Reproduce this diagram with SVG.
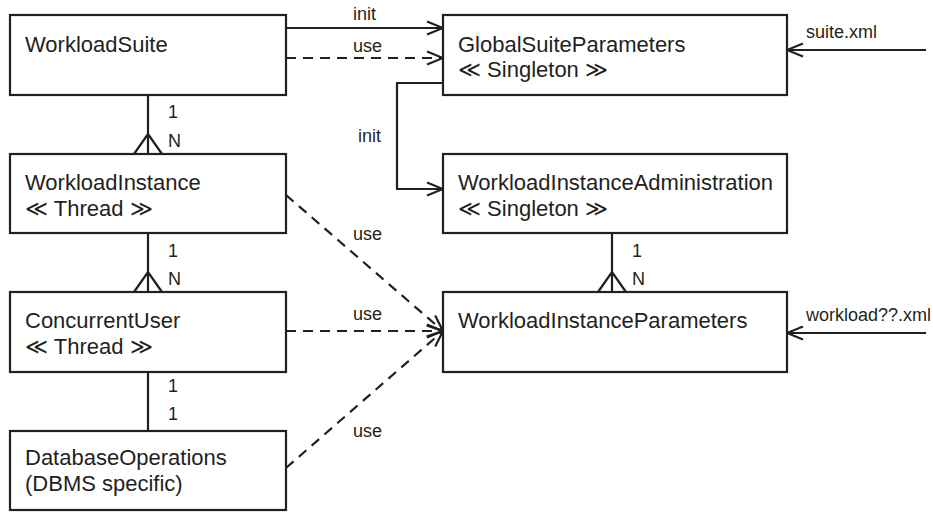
<svg xmlns="http://www.w3.org/2000/svg" width="933" height="512" viewBox="0 0 933 512">
<style>
.box{fill:#fff;stroke:#231f20;stroke-width:2.2}
.t{font-family:"Liberation Sans",Arial,sans-serif;font-size:22px;fill:#231f20}
.l{font-family:"Liberation Sans",Arial,sans-serif;font-size:18px;fill:#231f20}
.c{fill:none;stroke:#231f20;stroke-width:2.2}
.d{stroke-dasharray:10 7}
</style>
<defs>
<marker id="arr" viewBox="0 0 20 16" refX="18" refY="8" markerWidth="20" markerHeight="16" markerUnits="userSpaceOnUse" orient="auto">
<path d="M2,1.5 L18,8 L2,14.5" fill="none" stroke="#231f20" stroke-width="2.2" stroke-dasharray="none"/>
</marker>
</defs>
<rect width="933" height="512" fill="#fff"/>
<g id="connectors">
<path class="c" d="M286,28 H443" marker-end="url(#arr)"/>
<path class="c d" d="M286,58 H443" marker-end="url(#arr)"/>
<path class="c" d="M443,83 H397 V189 H443" marker-end="url(#arr)"/>
<path class="c" d="M926,50 H787" marker-end="url(#arr)"/>
<path class="c" d="M926,333 H787" marker-end="url(#arr)"/>
<path class="c d" d="M286,195 L443,331" marker-end="url(#arr)"/>
<path class="c d" d="M286,331 H443" marker-end="url(#arr)"/>
<path class="c d" d="M286,468 L443,331" marker-end="url(#arr)"/>
<path class="c" d="M148,95 V154 M134,154 L148,134 L162,154"/>
<path class="c" d="M148,233 V292 M134,292 L148,272 L162,292"/>
<path class="c" d="M148,372 V431"/>
<path class="c" d="M612,233 V292 M598,292 L612,272 L626,292"/>
<text class="l" x="353" y="20">init</text>
<text class="l" x="353" y="52">use</text>
<text class="l" x="358" y="142">init</text>
<text class="l" x="806" y="38">suite.xml</text>
<text class="l" x="806" y="321">workload??.xml</text>
<text class="l" x="353" y="240">use</text>
<text class="l" x="353" y="320">use</text>
<text class="l" x="353" y="437">use</text>
<text class="l" x="168" y="118">1</text>
<text class="l" x="168" y="147">N</text>
<text class="l" x="168" y="257">1</text>
<text class="l" x="168" y="285">N</text>
<text class="l" x="168" y="392">1</text>
<text class="l" x="168" y="420">1</text>
<text class="l" x="632" y="257">1</text>
<text class="l" x="632" y="285">N</text>
</g>
<g id="WorkloadSuite">
<rect class="box" x="10" y="15" width="276" height="80"/>
<text class="t" x="25" y="52">WorkloadSuite</text>
</g>
<g id="WorkloadInstance">
<rect class="box" x="10" y="154" width="276" height="79"/>
<text class="t" x="25" y="190">WorkloadInstance</text>
<text class="t" x="25" y="216">≪ Thread ≫</text>
</g>
<g id="ConcurrentUser">
<rect class="box" x="10" y="292" width="276" height="80"/>
<text class="t" x="25" y="328">ConcurrentUser</text>
<text class="t" x="25" y="354">≪ Thread ≫</text>
</g>
<g id="DatabaseOperations">
<rect class="box" x="10" y="431" width="276" height="79"/>
<text class="t" x="25" y="465">DatabaseOperations</text>
<text class="t" x="25" y="491">(DBMS specific)</text>
</g>
<g id="GlobalSuiteParameters">
<rect class="box" x="443" y="15" width="344" height="80"/>
<text class="t" x="458" y="52">GlobalSuiteParameters</text>
<text class="t" x="458" y="77">≪ Singleton ≫</text>
</g>
<g id="WorkloadInstanceAdministration">
<rect class="box" x="443" y="154" width="344" height="79"/>
<text class="t" x="458" y="190">WorkloadInstanceAdministration</text>
<text class="t" x="458" y="216">≪ Singleton ≫</text>
</g>
<g id="WorkloadInstanceParameters">
<rect class="box" x="443" y="292" width="344" height="80"/>
<text class="t" x="458" y="328">WorkloadInstanceParameters</text>
</g>
</svg>
